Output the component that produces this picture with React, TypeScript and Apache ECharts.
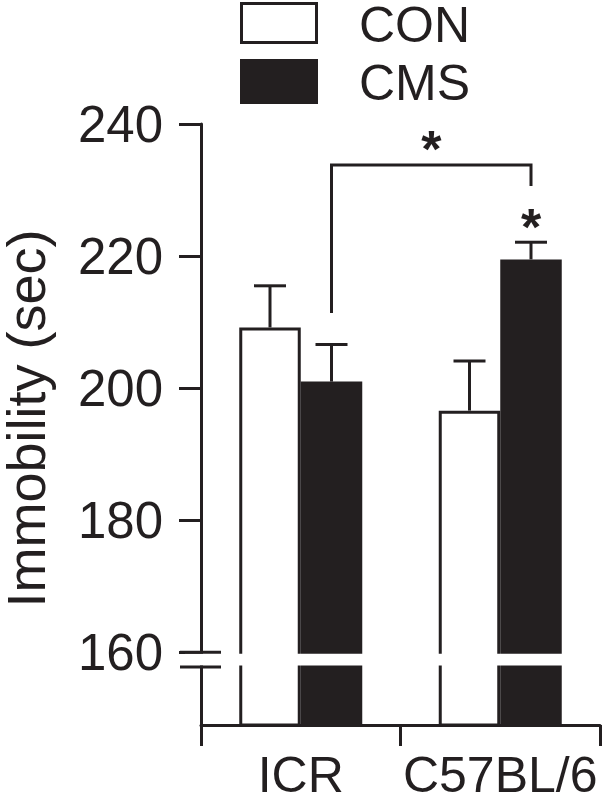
import React, { useEffect, useRef } from "react";
import * as echarts from "echarts";

const categories = ["ICR", "C57BL/6"];
const seriesNames = ["CON", "CMS"];
const conMean = [209.2, 196.6];
const conSem = [6.3, 7.5];
const cmsMean = [201.0, 219.5];
const cmsSem = [5.6, 2.6];
const yTicks = [160, 180, 200, 220, 240];
const yMin = 149;
const yMax = 240;
// axis break: value levels of the two break strokes
const breakLevels = [160, 157.8];
// significance bracket between ICR-CMS and C57BL/6-CMS
const bracketLevel = 233.8;
const bracketEnds = [211.4, 230.6];
const bracketStarValue = 237.9;
const groupStarValue = 226.1;

const INK = "#231f20";
const FONT = "'Liberation Sans', Arial, sans-serif";
const BAR_W = 61.5;
const HALF = BAR_W / 2;

function errRender(offset: number) {
  return (params: any, api: any) => {
    const b = api.coord([api.value(0), api.value(1)]);
    const t = api.coord([api.value(0), api.value(1) + api.value(2)]);
    const cx = b[0] + offset;
    return {
      type: "group",
      children: [
        { type: "line", shape: { x1: cx, y1: b[1], x2: cx, y2: t[1] }, style: { stroke: INK, lineWidth: 3 } },
        { type: "line", shape: { x1: cx - 16, y1: t[1], x2: cx + 16, y2: t[1] }, style: { stroke: INK, lineWidth: 3 } },
      ],
    };
  };
}

export default function App() {
  const ref = useRef<HTMLDivElement>(null);
  useEffect(() => {
    if (!ref.current) return;
    const chart = echarts.init(ref.current, null, { renderer: "svg" });
    const option: any = {
      animation: false,
      backgroundColor: "#ffffff",
      grid: { left: 201, right: 4, top: 124, bottom: 76, containLabel: false, outerBoundsMode: "none" },
      xAxis: {
        type: "category",
        data: categories,
        axisLine: { lineStyle: { color: INK, width: 3 } },
        axisTick: { show: true, interval: 0, length: 21, lineStyle: { color: INK, width: 3 } },
        axisLabel: { interval: 0, fontSize: 50, lineHeight: 42, color: INK, fontFamily: FONT, margin: 29, hideOverlap: false },
      },
      yAxis: {
        type: "value",
        min: yMin,
        max: yMax,
        name: "Immobility (sec)",
        nameLocation: "middle",
        nameGap: 151,
        nameTextStyle: { fontSize: 54, lineHeight: 48, color: INK, fontFamily: FONT, padding: [0, 0, 0, 12] },
        axisLine: { show: true, lineStyle: { color: INK, width: 3 } },
        axisTick: { show: true, length: 22, lineStyle: { color: INK, width: 3 }, customValues: yTicks },
        axisLabel: { fontSize: 51, color: INK, fontFamily: FONT, margin: 38, customValues: yTicks },
        splitLine: { show: false },
      },
      series: [
        {
          type: "bar",
          name: seriesNames[0],
          data: conMean,
          barWidth: BAR_W,
          barGap: "0%",
          itemStyle: { color: "#ffffff", borderColor: INK, borderWidth: 3 },
        },
        {
          type: "bar",
          name: seriesNames[1],
          data: cmsMean,
          barWidth: BAR_W,
          barGap: "0%",
          itemStyle: { color: INK },
        },
        {
          type: "custom",
          name: "CON SEM",
          data: conMean.map((m, i) => [i, m, conSem[i]]),
          renderItem: errRender(-HALF),
          z: 5,
          clip: false,
        },
        {
          type: "custom",
          name: "CMS SEM",
          data: cmsMean.map((m, i) => [i, m, cmsSem[i]]),
          renderItem: errRender(HALF),
          z: 5,
          clip: false,
        },
      ],
    };
    chart.setOption(option);

    const px = (cat: string, v: number) => chart.convertToPixel({ gridIndex: 0 }, [cat, v]) as number[];
    const axisX = 201;
    const rightX = 600;
    const b1 = px(categories[0], breakLevels[0])[1];
    const b2 = px(categories[0], breakLevels[1])[1];
    const bl = px(categories[0], bracketEnds[0]);
    const br = px(categories[1], bracketEnds[1]);
    const lvl = px(categories[0], bracketLevel)[1];
    const lx = bl[0] + HALF;
    const rx = br[0] + HALF;
    const s1 = px(categories[0], bracketStarValue)[1];
    const s2 = px(categories[1], groupStarValue)[1];

    const starStyle = { text: "*", fontSize: 52, fontWeight: "bold", fontFamily: FONT, fill: INK, align: "center", verticalAlign: "middle" };
    const legendText = { fontSize: 50, lineHeight: 44, fontFamily: FONT, fill: INK, verticalAlign: "middle" };
    chart.setOption({
      graphic: [
        // legend
        { type: "rect", shape: { x: 241.5, y: 3.5, width: 75, height: 39 }, style: { fill: "#fff", stroke: INK, lineWidth: 3 }, z: 10 },
        { type: "rect", shape: { x: 240, y: 59, width: 78, height: 45 }, style: { fill: INK }, z: 10 },
        { type: "text", x: 359, y: 25, style: { ...legendText, text: seriesNames[0] }, z: 10 },
        { type: "text", x: 359, y: 83, style: { ...legendText, text: seriesNames[1] }, z: 10 },
        // axis break gap
        { type: "rect", shape: { x: 185, y: b1 + 1.5, width: rightX - 185, height: b2 - b1 - 3 }, style: { fill: "#ffffff" }, z: 100 },
        { type: "line", shape: { x1: 180, y1: b1, x2: axisX + 20, y2: b1 }, style: { stroke: INK, lineWidth: 3 }, z: 101 },
        { type: "line", shape: { x1: 180, y1: b2, x2: axisX + 20, y2: b2 }, style: { stroke: INK, lineWidth: 3 }, z: 101 },
        // significance bracket
        {
          type: "polyline",
          shape: { points: [[lx, bl[1]], [lx, lvl], [rx, lvl], [rx, br[1]]] },
          style: { stroke: INK, lineWidth: 3, fill: "none" },
          z: 50,
        },
        { type: "text", x: (lx + rx) / 2, y: s1 + 11, style: starStyle, z: 50 },
        { type: "text", x: rx, y: s2 + 11, style: starStyle, z: 50 },
      ],
    });
    return () => chart.dispose();
  }, []);
  return <div ref={ref} style={{ position: "fixed", left: 0, top: 0, width: 604, height: 801 }} />;
}
